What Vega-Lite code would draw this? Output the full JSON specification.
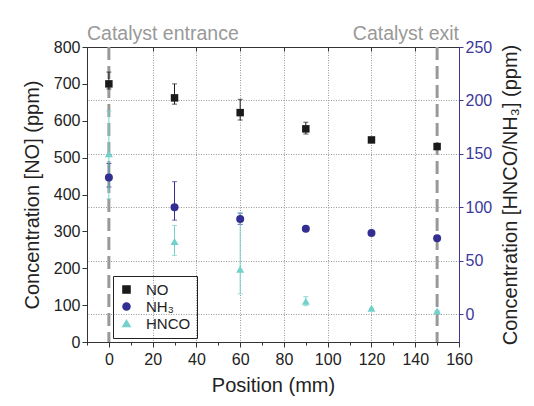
{
  "$schema": "https://vega.github.io/schema/vega-lite/v6.json",
  "width": 372,
  "height": 295,
  "autosize": {"type": "none"},
  "padding": {"left": 87, "top": 47, "right": 75, "bottom": 64},
  "config": {
    "font": "Liberation Sans",
    "view": {"stroke": "#333", "strokeWidth": 1},
    "axis": {
      "labelFont": "Liberation Sans",
      "titleFont": "Liberation Sans",
      "labelFontSize": 16,
      "titleFontSize": 20,
      "titleFontWeight": "normal",
      "labelColor": "#222",
      "titleColor": "#222",
      "domainColor": "#333",
      "tickColor": "#333",
      "tickSize": 4,
      "labelOverlap": false,
      "grid": false
    },
    "legend": {
      "orient": "none",
      "legendX": 26,
      "legendY": 229,
      "strokeColor": "#222",
      "padding": 6,
      "labelFont": "Liberation Sans",
      "labelFontSize": 15,
      "labelColor": "#222",
      "symbolSize": 50,
      "symbolOpacity": 1,
      "rowPadding": 1,
      "labelOffset": 12
    }
  },
  "datasets": {
    "meas": [
      {"pos": 0, "series": "NO", "value": 700, "lo": 686, "hi": 732},
      {"pos": 30, "series": "NO", "value": 662, "lo": 645, "hi": 700},
      {"pos": 60, "series": "NO", "value": 622, "lo": 602, "hi": 658},
      {"pos": 90, "series": "NO", "value": 578, "lo": 564, "hi": 596},
      {"pos": 120, "series": "NO", "value": 548, "lo": 542, "hi": 554},
      {"pos": 150, "series": "NO", "value": 530, "lo": 527, "hi": 533},
      {"pos": 0, "series": "NH₃", "value": 128, "lo": 119, "hi": 141},
      {"pos": 30, "series": "NH₃", "value": 100, "lo": 88, "hi": 124},
      {"pos": 60, "series": "NH₃", "value": 89, "lo": 84, "hi": 94.5},
      {"pos": 90, "series": "NH₃", "value": 80, "lo": 80, "hi": 80},
      {"pos": 120, "series": "NH₃", "value": 76, "lo": 76, "hi": 76},
      {"pos": 150, "series": "NH₃", "value": 71, "lo": 71, "hi": 71},
      {"pos": 0, "series": "HNCO", "value": 150, "lo": 108, "hi": 190},
      {"pos": 30, "series": "HNCO", "value": 68, "lo": 55, "hi": 83},
      {"pos": 60, "series": "HNCO", "value": 42, "lo": 19, "hi": 95},
      {"pos": 90, "series": "HNCO", "value": 12, "lo": 8, "hi": 16.5},
      {"pos": 120, "series": "HNCO", "value": 5.5, "lo": 5.5, "hi": 5.5},
      {"pos": 150, "series": "HNCO", "value": 3, "lo": 3, "hi": 3}
    ],
    "catalyst": [
      {"pos": 0, "label": "Catalyst entrance", "textpos": -10, "side": "entrance"},
      {"pos": 150, "label": "Catalyst exit", "textpos": 160, "side": "exit"}
    ]
  },
  "layer": [
    {
      "layer": [
        {
          "data": {"name": "catalyst"},
          "mark": {"type": "rule", "color": "#999", "strokeWidth": 3, "strokeDash": [13, 6]},
          "encoding": {
            "x": {
              "field": "pos",
              "type": "quantitative",
              "title": null,
              "axis": {
                "orient": "bottom",
                "values": [-10, 10, 30, 50, 70, 90, 110, 130, 150],
                "labels": false,
                "domain": false,
                "tickSize": 3,
                "title": null
              }
            }
          }
        },
        {
          "data": {"name": "catalyst"},
          "transform": [{"filter": "datum.side === 'entrance'"}],
          "mark": {"type": "text", "align": "left", "baseline": "middle", "fontSize": 19.5, "color": "#999", "font": "Liberation Sans"},
          "encoding": {
            "x": {"field": "textpos", "type": "quantitative", "title": null},
            "y": {
              "datum": 835,
              "type": "quantitative",
              "title": null,
              "scale": {"domain": [0, 800], "nice": false, "zero": false},
              "axis": {
                "orient": "left",
                "values": [100, 300, 500, 700],
                "labels": true,
                "labelOverlap": false,
                "labelFlush": false,
                "domain": false,
                "tickSize": 5,
                "title": null
              }
            },
            "text": {"field": "label"}
          }
        },
        {
          "data": {"name": "catalyst"},
          "transform": [{"filter": "datum.side === 'exit'"}],
          "mark": {"type": "text", "align": "right", "baseline": "middle", "fontSize": 19.5, "color": "#999", "font": "Liberation Sans"},
          "encoding": {
            "x": {"field": "textpos", "type": "quantitative", "title": null},
            "y": {"datum": 835, "type": "quantitative", "title": null},
            "text": {"field": "label"}
          }
        }
      ]
    },
    {
      "layer": [
        {
          "data": {"name": "meas"},
          "transform": [{"filter": "datum.series === 'NO'"}],
          "mark": {"type": "errorbar", "ticks": true, "thickness": 1},
          "encoding": {
            "x": {"field": "pos", "type": "quantitative", "title": "Position (mm)"},
            "y": {"field": "lo", "type": "quantitative", "title": "Concentration [NO] (ppm)"},
            "y2": {"field": "hi"},
            "color": {"field": "series", "type": "nominal", "title": null}
          }
        },
        {
          "data": {"name": "meas"},
          "transform": [{"filter": "datum.series === 'NO'"}],
          "mark": {"type": "point", "filled": true, "opacity": 1, "size": 56},
          "encoding": {
            "x": {
              "field": "pos",
              "type": "quantitative",
              "title": "Position (mm)",
              "scale": {"domain": [-10, 160], "nice": false, "zero": false},
              "axis": {
                "orient": "bottom",
                "values": [0, 20, 40, 60, 80, 100, 120, 140, 160],
                "labelOverlap": false,
                "labelFlush": false,
                "tickSize": 5,
                "labelPadding": 4,
                "titlePadding": 8,
                "grid": true,
                "gridColor": "#999",
                "gridDash": [1, 1.5],
                "gridOpacity": {"condition": {"test": "datum.value > 0 && datum.value < 160", "value": 1}, "value": 0}
              }
            },
            "y": {
              "field": "value",
              "type": "quantitative",
              "title": "Concentration [NO] (ppm)",
              "scale": {"domain": [0, 800], "nice": false, "zero": false},
              "axis": {
                "orient": "left",
                "values": [0, 200, 400, 600, 800],
                "labelOverlap": false,
                "labelFlush": false,
                "tickSize": 5,
                "titlePadding": 11
              }
            },
            "color": {
              "field": "series",
              "type": "nominal",
              "title": null,
              "scale": {"domain": ["NO", "NH₃", "HNCO"], "range": ["#1a1a1a", "#332e91", "#72d1cb"]}
            },
            "shape": {
              "field": "series",
              "type": "nominal",
              "title": null,
              "scale": {"domain": ["NO", "NH₃", "HNCO"], "range": ["square", "circle", "triangle-up"]}
            }
          }
        }
      ]
    },
    {
      "layer": [
        {
          "data": {"name": "meas"},
          "transform": [{"filter": "datum.series !== 'NO'"}],
          "mark": {"type": "errorbar", "ticks": true, "thickness": 1},
          "encoding": {
            "x": {"field": "pos", "type": "quantitative", "title": "Position (mm)"},
            "y": {"field": "lo", "type": "quantitative", "title": "Concentration [HNCO/NH₃] (ppm)"},
            "y2": {"field": "hi"},
            "color": {"field": "series", "type": "nominal", "title": null}
          }
        },
        {
          "data": {"name": "meas"},
          "transform": [{"filter": "datum.series !== 'NO'"}],
          "mark": {"type": "point", "filled": true, "opacity": 1, "size": 64},
          "encoding": {
            "x": {
              "field": "pos",
              "type": "quantitative",
              "title": "Position (mm)",
              "axis": {
                "orient": "top",
                "values": [0, 10, 20, 30, 40, 50, 60, 70, 80, 90, 100, 110, 120, 130, 140, 150, 160],
                "labels": false,
                "title": null,
                "tickSize": -4
              }
            },
            "y": {
              "field": "value",
              "type": "quantitative",
              "title": "Concentration [HNCO/NH₃] (ppm)",
              "scale": {"domain": [-26, 250], "nice": false, "zero": false},
              "axis": {
                "orient": "right",
                "values": [0, 25, 50, 75, 100, 125, 150, 175, 200, 225, 250],
                "labelExpr": "datum.value % 50 === 0 ? datum.label : ''",
                "labelOverlap": false,
                "labelFlush": false,
                "labelColor": "#3b3898",
                "tickColor": "#3b3898",
                "domainColor": "#3b3898",
                "titleAngle": -90,
                "titleBaseline": "top",
                "titlePadding": 9,
                "grid": true,
                "gridColor": "#999",
                "gridDash": [1, 1.5],
                "gridOpacity": {"condition": {"test": "datum.value % 50 === 0 && datum.value < 250", "value": 1}, "value": 0}
              }
            },
            "color": {"field": "series", "type": "nominal", "title": null},
            "shape": {"field": "series", "type": "nominal", "title": null}
          }
        }
      ]
    }
  ],
  "resolve": {"scale": {"y": "independent"}, "axis": {"x": "independent", "y": "independent"}}
}
